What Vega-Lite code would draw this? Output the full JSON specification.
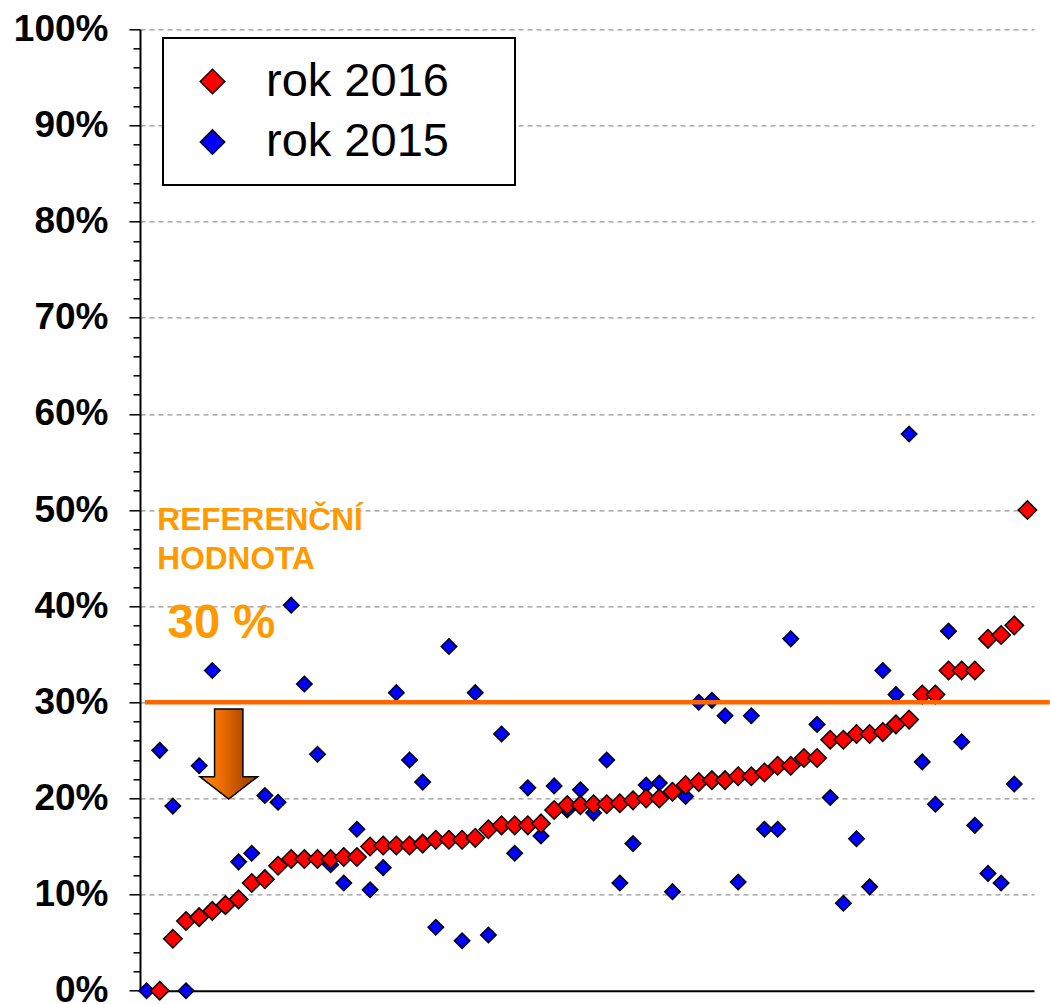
{
  "$schema": "https://vega.github.io/schema/vega-lite/v6.json",
  "width": 894,
  "height": 961.4,
  "autosize": {"type": "none"},
  "padding": {"left": 140, "top": 29.3, "right": 16, "bottom": 13.3},
  "background": "white",
  "config": {"view": {"stroke": null}, "font": "Liberation Sans", "legend": {"strokeWidth": 2}},
  "datasets": {
    "r2015": [
      {"i": 0, "rok": "rok 2015", "v": 0},
      {"i": 1, "rok": "rok 2015", "v": 25.0},
      {"i": 2, "rok": "rok 2015", "v": 19.2},
      {"i": 3, "rok": "rok 2015", "v": 0},
      {"i": 4, "rok": "rok 2015", "v": 23.4},
      {"i": 5, "rok": "rok 2015", "v": 33.3},
      {"i": 7, "rok": "rok 2015", "v": 13.4},
      {"i": 8, "rok": "rok 2015", "v": 14.3},
      {"i": 9, "rok": "rok 2015", "v": 20.3},
      {"i": 10, "rok": "rok 2015", "v": 19.6},
      {"i": 11, "rok": "rok 2015", "v": 40.1},
      {"i": 12, "rok": "rok 2015", "v": 31.9},
      {"i": 13, "rok": "rok 2015", "v": 24.6},
      {"i": 14, "rok": "rok 2015", "v": 13.1},
      {"i": 15, "rok": "rok 2015", "v": 11.2},
      {"i": 16, "rok": "rok 2015", "v": 16.8},
      {"i": 17, "rok": "rok 2015", "v": 10.5},
      {"i": 18, "rok": "rok 2015", "v": 12.8},
      {"i": 19, "rok": "rok 2015", "v": 31.0},
      {"i": 20, "rok": "rok 2015", "v": 24.0},
      {"i": 21, "rok": "rok 2015", "v": 21.7},
      {"i": 22, "rok": "rok 2015", "v": 6.6},
      {"i": 23, "rok": "rok 2015", "v": 35.8},
      {"i": 24, "rok": "rok 2015", "v": 5.2},
      {"i": 25, "rok": "rok 2015", "v": 31.0},
      {"i": 26, "rok": "rok 2015", "v": 5.8},
      {"i": 27, "rok": "rok 2015", "v": 26.7},
      {"i": 28, "rok": "rok 2015", "v": 14.3},
      {"i": 29, "rok": "rok 2015", "v": 21.1},
      {"i": 30, "rok": "rok 2015", "v": 16.1},
      {"i": 31, "rok": "rok 2015", "v": 21.3},
      {"i": 32, "rok": "rok 2015", "v": 18.8},
      {"i": 33, "rok": "rok 2015", "v": 20.9},
      {"i": 34, "rok": "rok 2015", "v": 18.5},
      {"i": 35, "rok": "rok 2015", "v": 24.0},
      {"i": 36, "rok": "rok 2015", "v": 11.2},
      {"i": 37, "rok": "rok 2015", "v": 15.3},
      {"i": 38, "rok": "rok 2015", "v": 21.4},
      {"i": 39, "rok": "rok 2015", "v": 21.6},
      {"i": 40, "rok": "rok 2015", "v": 10.3},
      {"i": 41, "rok": "rok 2015", "v": 20.2},
      {"i": 42, "rok": "rok 2015", "v": 30.0},
      {"i": 43, "rok": "rok 2015", "v": 30.2},
      {"i": 44, "rok": "rok 2015", "v": 28.6},
      {"i": 45, "rok": "rok 2015", "v": 11.3},
      {"i": 46, "rok": "rok 2015", "v": 28.6},
      {"i": 47, "rok": "rok 2015", "v": 16.8},
      {"i": 48, "rok": "rok 2015", "v": 16.8},
      {"i": 49, "rok": "rok 2015", "v": 36.6},
      {"i": 51, "rok": "rok 2015", "v": 27.7},
      {"i": 52, "rok": "rok 2015", "v": 20.1},
      {"i": 53, "rok": "rok 2015", "v": 9.1},
      {"i": 54, "rok": "rok 2015", "v": 15.8},
      {"i": 55, "rok": "rok 2015", "v": 10.8},
      {"i": 56, "rok": "rok 2015", "v": 33.3},
      {"i": 57, "rok": "rok 2015", "v": 30.8},
      {"i": 58, "rok": "rok 2015", "v": 57.9},
      {"i": 59, "rok": "rok 2015", "v": 23.8},
      {"i": 60, "rok": "rok 2015", "v": 19.4},
      {"i": 61, "rok": "rok 2015", "v": 37.4},
      {"i": 62, "rok": "rok 2015", "v": 25.9},
      {"i": 63, "rok": "rok 2015", "v": 17.2},
      {"i": 64, "rok": "rok 2015", "v": 12.2},
      {"i": 65, "rok": "rok 2015", "v": 11.2},
      {"i": 66, "rok": "rok 2015", "v": 21.5}
    ],
    "r2016": [
      {"i": 1, "rok": "rok 2016", "v": 0},
      {"i": 2, "rok": "rok 2016", "v": 5.4},
      {"i": 3, "rok": "rok 2016", "v": 7.25},
      {"i": 4, "rok": "rok 2016", "v": 7.65},
      {"i": 5, "rok": "rok 2016", "v": 8.3},
      {"i": 6, "rok": "rok 2016", "v": 8.9},
      {"i": 7, "rok": "rok 2016", "v": 9.5},
      {"i": 8, "rok": "rok 2016", "v": 11.2},
      {"i": 9, "rok": "rok 2016", "v": 11.6},
      {"i": 10, "rok": "rok 2016", "v": 13.0},
      {"i": 11, "rok": "rok 2016", "v": 13.7},
      {"i": 12, "rok": "rok 2016", "v": 13.7},
      {"i": 13, "rok": "rok 2016", "v": 13.7},
      {"i": 14, "rok": "rok 2016", "v": 13.7},
      {"i": 15, "rok": "rok 2016", "v": 13.9},
      {"i": 16, "rok": "rok 2016", "v": 13.9},
      {"i": 17, "rok": "rok 2016", "v": 15.0},
      {"i": 18, "rok": "rok 2016", "v": 15.1},
      {"i": 19, "rok": "rok 2016", "v": 15.1},
      {"i": 20, "rok": "rok 2016", "v": 15.1},
      {"i": 21, "rok": "rok 2016", "v": 15.3},
      {"i": 22, "rok": "rok 2016", "v": 15.7},
      {"i": 23, "rok": "rok 2016", "v": 15.7},
      {"i": 24, "rok": "rok 2016", "v": 15.7},
      {"i": 25, "rok": "rok 2016", "v": 15.9},
      {"i": 26, "rok": "rok 2016", "v": 16.8},
      {"i": 27, "rok": "rok 2016", "v": 17.2},
      {"i": 28, "rok": "rok 2016", "v": 17.2},
      {"i": 29, "rok": "rok 2016", "v": 17.2},
      {"i": 30, "rok": "rok 2016", "v": 17.4},
      {"i": 31, "rok": "rok 2016", "v": 18.8},
      {"i": 32, "rok": "rok 2016", "v": 19.3},
      {"i": 33, "rok": "rok 2016", "v": 19.3},
      {"i": 34, "rok": "rok 2016", "v": 19.4},
      {"i": 35, "rok": "rok 2016", "v": 19.4},
      {"i": 36, "rok": "rok 2016", "v": 19.5},
      {"i": 37, "rok": "rok 2016", "v": 19.8},
      {"i": 38, "rok": "rok 2016", "v": 20.0},
      {"i": 39, "rok": "rok 2016", "v": 20.0},
      {"i": 40, "rok": "rok 2016", "v": 20.7},
      {"i": 41, "rok": "rok 2016", "v": 21.4},
      {"i": 42, "rok": "rok 2016", "v": 21.7},
      {"i": 43, "rok": "rok 2016", "v": 21.9},
      {"i": 44, "rok": "rok 2016", "v": 21.9},
      {"i": 45, "rok": "rok 2016", "v": 22.3},
      {"i": 46, "rok": "rok 2016", "v": 22.3},
      {"i": 47, "rok": "rok 2016", "v": 22.7},
      {"i": 48, "rok": "rok 2016", "v": 23.4},
      {"i": 49, "rok": "rok 2016", "v": 23.4},
      {"i": 50, "rok": "rok 2016", "v": 24.2},
      {"i": 51, "rok": "rok 2016", "v": 24.2},
      {"i": 52, "rok": "rok 2016", "v": 26.1},
      {"i": 53, "rok": "rok 2016", "v": 26.1},
      {"i": 54, "rok": "rok 2016", "v": 26.7},
      {"i": 55, "rok": "rok 2016", "v": 26.7},
      {"i": 56, "rok": "rok 2016", "v": 26.9},
      {"i": 57, "rok": "rok 2016", "v": 27.7},
      {"i": 58, "rok": "rok 2016", "v": 28.2},
      {"i": 59, "rok": "rok 2016", "v": 30.8},
      {"i": 60, "rok": "rok 2016", "v": 30.8},
      {"i": 61, "rok": "rok 2016", "v": 33.3},
      {"i": 62, "rok": "rok 2016", "v": 33.3},
      {"i": 63, "rok": "rok 2016", "v": 33.3},
      {"i": 64, "rok": "rok 2016", "v": 36.6},
      {"i": 65, "rok": "rok 2016", "v": 37.0},
      {"i": 66, "rok": "rok 2016", "v": 38.0},
      {"i": 67, "rok": "rok 2016", "v": 50.0}
    ]
  },
  "layer": [
    {
      "data": {"name": "r2015"},
      "mark": {"type": "point", "shape": "diamond", "filled": true, "opacity": 1, "stroke": "black", "strokeWidth": 1.5, "size": 240},
      "encoding": {
        "x": {
          "field": "i", "type": "quantitative",
          "scale": {"domain": [-0.5, 67.5], "nice": false, "zero": false},
          "axis": {"title": null, "labels": false, "ticks": false, "grid": false, "domain": true, "domainColor": "black", "domainWidth": 2}
        },
        "y": {
          "field": "v", "type": "quantitative",
          "scale": {"domain": [0, 100], "nice": false},
          "axis": {
            "title": null,
            "values": [0,2,4,6,8,10,12,14,16,18,20,22,24,26,28,30,32,34,36,38,40,42,44,46,48,50,52,54,56,58,60,62,64,66,68,70,72,74,76,78,80,82,84,86,88,90,92,94,96,98,100],
            "tickCount": 100,
            "labelExpr": "datum.value % 10 === 0 ? datum.value + '%' : ''",
            "labelFont": "Liberation Sans",
            "labelFontSize": 37,
            "labelFontWeight": "bold",
            "labelColor": "black",
            "labelPadding": 21,
            "labelOverlap": false,
            "labelBound": false,
            "labelFlush": false,
            "domainColor": "black",
            "domainWidth": 2,
            "tickColor": "black",
            "tickWidth": 1.5,
            "tickSize": {"condition": {"test": "datum.value % 10 === 0", "value": 11}, "value": 7},
            "grid": true,
            "gridColor": "#969696",
            "gridDash": [5, 4],
            "gridWidth": 1.3,
            "gridOpacity": {"condition": {"test": "datum.value % 10 === 0 && datum.value > 0", "value": 1}, "value": 0}
          }
        },
        "color": {
          "field": "rok", "type": "nominal",
          "scale": {"domain": ["rok 2016", "rok 2015"], "range": ["#FF0000", "#0000FF"]},
          "legend": {
            "title": " ",
            "titleOrient": "right",
            "titleFontSize": 1,
            "titlePadding": 46,
            "orient": "none",
            "legendX": 23,
            "legendY": 8.7,
            "padding": 20,
            "rowPadding": 12.5,
            "symbolType": "diamond",
            "symbolSize": 600,
            "symbolStrokeColor": "black",
            "symbolStrokeWidth": 1.5,
            "symbolOpacity": 1,
            "symbolOffset": 6,
            "labelFont": "Liberation Sans",
            "labelFontSize": 47,
            "labelLimit": 500,
            "labelColor": "black",
            "labelOffset": 30,
            "strokeColor": "black",
            "fillColor": "white"
          }
        }
      }
    },
    {
      "data": {"name": "r2016"},
      "mark": {"type": "point", "shape": "diamond", "filled": true, "opacity": 1, "stroke": "black", "strokeWidth": 1.5, "size": 342},
      "encoding": {
        "x": {"field": "i", "type": "quantitative"},
        "y": {"field": "v", "type": "quantitative"},
        "color": {"field": "rok", "type": "nominal"}
      }
    },
    {
      "data": {"values": [{"ref": 30}]},
      "mark": {"type": "rule", "color": "#FF6600", "strokeWidth": 4.5},
      "encoding": {"x": {"datum": -0.12}, "x2": {"datum": 68.7}, "y": {"field": "ref", "type": "quantitative"}}
    },
    {
      "data": {"values": [{"t": "REFERENČNÍ"}]},
      "mark": {"type": "text", "align": "left", "baseline": "alphabetic", "font": "Liberation Sans", "fontSize": 31.6, "fontWeight": "bold", "color": "#FF9900"},
      "encoding": {"x": {"datum": 0.82}, "y": {"datum": 47.92}, "text": {"field": "t"}}
    },
    {
      "data": {"values": [{"t": "HODNOTA"}]},
      "mark": {"type": "text", "align": "left", "baseline": "alphabetic", "font": "Liberation Sans", "fontSize": 31.6, "fontWeight": "bold", "color": "#FF9900"},
      "encoding": {"x": {"datum": 0.82}, "y": {"datum": 43.87}, "text": {"field": "t"}}
    },
    {
      "data": {"values": [{"t": "30 %"}]},
      "mark": {"type": "text", "align": "left", "baseline": "alphabetic", "font": "Liberation Sans", "fontSize": 47.3, "fontWeight": "bold", "color": "#FF9900"},
      "encoding": {"x": {"datum": 1.6}, "y": {"datum": 36.69}, "text": {"field": "t"}}
    },
    {
      "data": {"values": [{"a": 1}]},
      "mark": {
        "type": "point",
        "shape": "M-0.315,-1 L0.315,-1 L0.315,0.504 L0.64,0.504 L0,1 L-0.64,0.504 L-0.315,0.504 Z",
        "size": 8100,
        "filled": true,
        "opacity": 1,
        "color": {"gradient": "linear", "x1": 0, "x2": 1, "y1": 0, "y2": 0, "stops": [{"offset": 0, "color": "#FF8C1A"}, {"offset": 0.35, "color": "#F06E00"}, {"offset": 0.75, "color": "#B34D00"}, {"offset": 1, "color": "#A34400"}]},
        "stroke": "black",
        "strokeWidth": 1.5
      },
      "encoding": {"x": {"datum": 6.25}, "y": {"datum": 24.62}}
    }
  ]
}
